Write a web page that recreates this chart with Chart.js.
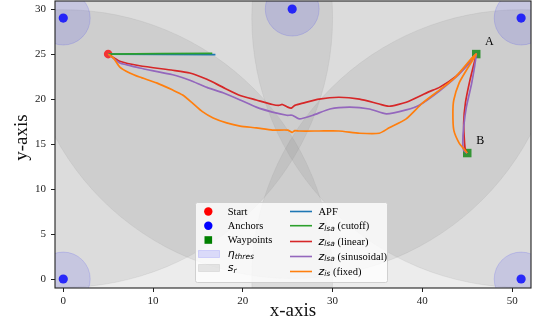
<!DOCTYPE html>
<html>
<head>
<meta charset="utf-8">
<script src="https://cdn.jsdelivr.net/npm/chart.js@4.4.0/dist/chart.umd.min.js"></script>
<style>
  html, body { margin: 0; padding: 0; background: #fff; }
</style>
</head>
<body>
<canvas id="chart" width="537" height="328"></canvas>
<script>
// axes
const xMin = -0.92, xMax = 52.1;
const yMin = -1, yMax = 30.9;
const xTicks = [0, 10, 20, 30, 40, 50];
const yTicks = [0, 5, 10, 15, 20, 25, 30];
const yTitle = 'y-axis';

// anchors, start, waypoints
const anchorX = [0, 25.5, 51, 0, 51];
const anchorY = [29, 30, 29, 0, 0];
const sensingRange = 30;   // s_r
const etaThres = 3;        // eta_thres
const startX = [5], startY = [25];
const waypointX = [46, 45], waypointY = [25, 14];
const waypointNames = ['A', 'B'];

// trajectories
const apfX = [5, 16.95], apfY = [25, 24.94];
const cutoffX = [5, 16.6], cutoffY = [25, 25.08];
const linearX = [5, 6.3, 8.5, 12.2, 14.1, 16.0, 17.8, 19.7, 21.5, 23.3, 24.0, 24.4, 25.0, 25.4, 25.8, 26.7, 28.5, 30.7, 33.0, 35.2, 36.3, 38.2, 40.7, 41.9, 43.7, 45.2, 45.8, 46,
                 45.3, 44.8, 44.6, 44.7, 44.8, 45];
const linearY = [25, 24.2, 23.7, 23.2, 22.9, 22.2, 21.3, 20.4, 19.9, 19.4, 19.3, 19.4, 19.1, 19.0, 19.3, 19.55, 20.0, 20.2, 20.0, 19.45, 19.2, 19.65, 20.8, 21.3, 22.5, 24.0, 24.8, 25,
                 22.1, 19.6, 17.3, 15.1, 14.3, 14];
const sinusX = [5, 6.3, 7.1, 8.5, 12.2, 14.1, 16.0, 17.8, 19.7, 21.5, 23.3, 24.9, 25.5, 26.3, 27.8, 29.7, 31.9, 34.1, 36.0, 38.2, 39.7, 41.9, 43.7, 45.2, 45.8, 46,
                45.5, 44.9, 44.6, 44.5, 44.6, 45];
const sinusY = [25, 24.0, 23.8, 23.45, 22.7, 22.1, 21.3, 20.7, 19.9, 19.1, 18.55, 18.2, 18.2, 17.8, 18.2, 18.9, 19.1, 18.9, 18.35, 18.8, 19.35, 20.9, 22.4, 24.0, 24.8, 25,
                21.8, 19.1, 16.9, 15.1, 14.3, 14];
const fixedX = [5, 5.6, 6.3, 7.4, 8.5, 10.4, 12.2, 13.3, 14.4, 15.5, 16.7, 18.2, 19.7, 21.5, 23.3, 25.0, 25.5, 25.8, 26.3, 28.5, 30.7, 33.0, 35.2, 36.3, 38.2, 40.0, 41.9, 43.7, 45.5, 46,
                44.9, 44.1, 43.5, 43.4, 43.5, 44.1, 44.7, 45];
const fixedY = [25, 24.55, 23.55, 22.9, 22.45, 21.8, 21.0, 20.45, 19.55, 18.6, 17.9, 17.35, 17.0, 16.8, 16.55, 16.55, 16.3, 16.5, 16.45, 16.45, 16.45, 16.2, 16.2, 16.8, 17.8, 19.55, 21.0, 22.45, 24.55, 25,
                23.2, 21.8, 19.9, 18.45, 16.55, 15.1, 14.35, 14];

const legendLeft = ['Start', 'Anchors', 'Waypoints', 'η|thres', 's|r'];
const legendRight = ['APF', 'z|lsa| (cutoff)', 'z|lsa| (linear)', 'z|lsa| (sinusoidal)', 'z|is| (fixed)'];

const pts = (xs, ys) => xs.map((v, i) => ({ x: v, y: ys[i] }));
const serif = '"Liberation Serif", "Times New Roman", serif';
const sans = '"DejaVu Sans", sans-serif';

function lineSet(label, xs, ys, color, order) {
  return { label, data: pts(xs, ys), showLine: true, borderColor: color, borderWidth: 1.7,
           pointRadius: 0, fill: false, order, tension: 0.2 };
}

// text like "z|lsa| (cutoff)" -> italic base, subscript, plain rest
function drawMath(ctx, str, x, y) {
  const parts = str.split('|');
  if (parts.length === 1) {
    ctx.font = '10.5px ' + serif;
    ctx.fillText(str, x, y);
    return;
  }
  ctx.font = 'italic 11px ' + sans;
  ctx.fillText(parts[0], x, y);
  let w = ctx.measureText(parts[0]).width;
  ctx.font = 'italic 7.5px ' + sans;
  ctx.fillText(parts[1], x + w, y + 2.5);
  w += ctx.measureText(parts[1]).width;
  if (parts[2]) {
    ctx.font = '10.5px ' + serif;
    ctx.fillText(parts[2], x + w, y);
  }
}

const backgroundPlugin = {
  id: 'background',
  beforeDatasetsDraw(chart) {
    const { ctx, chartArea: a, scales: { x, y } } = chart;
    const ppu = Math.abs(x.getPixelForValue(1) - x.getPixelForValue(0));
    ctx.save();
    ctx.beginPath();
    ctx.rect(a.left, a.top, a.right - a.left, a.bottom - a.top);
    ctx.clip();
    anchorX.forEach((ax, i) => {
      ctx.beginPath();
      ctx.arc(x.getPixelForValue(ax), y.getPixelForValue(anchorY[i]), sensingRange * ppu, 0, Math.PI * 2);
      ctx.fillStyle = 'rgba(128,128,128,0.15)';
      ctx.fill();
      ctx.strokeStyle = 'rgba(128,128,128,0.12)';
      ctx.lineWidth = 1;
      ctx.stroke();
    });
    anchorX.forEach((ax, i) => {
      ctx.beginPath();
      ctx.arc(x.getPixelForValue(ax), y.getPixelForValue(anchorY[i]), etaThres * ppu, 0, Math.PI * 2);
      ctx.fillStyle = 'rgba(0,0,255,0.1)';
      ctx.fill();
      ctx.strokeStyle = 'rgba(0,0,255,0.12)';
      ctx.stroke();
    });
    ctx.restore();
  },
  afterDatasetsDraw(chart) {
    const { ctx, chartArea: a, scales: { x, y } } = chart;
    ctx.save();
    ctx.strokeStyle = '#222';
    ctx.lineWidth = 1.1;
    ctx.strokeRect(a.left, a.top, a.right - a.left, a.bottom - a.top);
    // waypoint names
    ctx.fillStyle = '#000';
    ctx.font = '12px ' + serif;
    ctx.textAlign = 'center';
    ctx.textBaseline = 'middle';
    waypointNames.forEach((n, i) => {
      ctx.fillText(n, x.getPixelForValue(waypointX[i]) + 13, y.getPixelForValue(waypointY[i]) - 12);
    });
    ctx.restore();
  },
  afterDraw(chart) {
    const ctx = chart.ctx;
    ctx.save();
    // y title, a bit above the axis centre like the original
    ctx.save();
    ctx.translate(22.4, 137.5);
    ctx.rotate(-Math.PI / 2);
    ctx.font = '19px ' + serif;
    ctx.fillStyle = '#111';
    ctx.textAlign = 'center';
    ctx.textBaseline = 'middle';
    ctx.fillText(yTitle, 0, 0);
    ctx.restore();

    // legend box
    ctx.beginPath();
    ctx.roundRect(195.5, 202.5, 192, 80, 2);
    ctx.fillStyle = 'rgba(255,255,255,0.8)';
    ctx.fill();
    ctx.strokeStyle = 'rgba(204,204,204,0.9)';
    ctx.lineWidth = 1;
    ctx.stroke();

    const rowsL = [211.5, 225.7, 240, 254, 268];
    const rowsR = [211.5, 225.7, 241.5, 256.5, 271.5];
    const lineColors = ['#1f77b4', '#2ca02c', '#d62728', '#9467bd', '#ff7f0e'];
    ctx.textBaseline = 'middle';
    ctx.textAlign = 'left';
    // handles, left column
    ctx.fillStyle = 'red';
    ctx.beginPath(); ctx.arc(208.3, rowsL[0], 4.2, 0, Math.PI * 2); ctx.fill();
    ctx.fillStyle = 'blue';
    ctx.beginPath(); ctx.arc(208.3, rowsL[1], 4.2, 0, Math.PI * 2); ctx.fill();
    ctx.fillStyle = 'green';
    ctx.fillRect(204.5, rowsL[2] - 3.8, 7.6, 7.6);
    ctx.fillStyle = 'rgba(0,0,255,0.12)';
    ctx.fillRect(198.5, rowsL[3] - 3.5, 21, 7);
    ctx.strokeStyle = 'rgba(0,0,255,0.12)';
    ctx.strokeRect(198.5, rowsL[3] - 3.5, 21, 7);
    ctx.fillStyle = 'rgba(128,128,128,0.18)';
    ctx.fillRect(198.5, rowsL[4] - 3.5, 21, 7);
    ctx.strokeStyle = 'rgba(128,128,128,0.15)';
    ctx.strokeRect(198.5, rowsL[4] - 3.5, 21, 7);
    ctx.fillStyle = '#000';
    legendLeft.forEach((t, i) => drawMath(ctx, t, 227.7, rowsL[i] + 0.5));
    // right column
    legendRight.forEach((t, i) => {
      ctx.strokeStyle = lineColors[i];
      ctx.lineWidth = 1.6;
      ctx.beginPath(); ctx.moveTo(290, rowsR[i]); ctx.lineTo(312, rowsR[i]); ctx.stroke();
      ctx.fillStyle = '#000';
      drawMath(ctx, t, 318.5, rowsR[i] + 0.5);
    });
    ctx.restore();
  }
};

new Chart(document.getElementById('chart'), {
  type: 'scatter',
  data: {
    datasets: [
      lineSet('z_is (fixed)', fixedX, fixedY, '#ff7f0e', 1),
      lineSet('z_lsa (sinusoidal)', sinusX, sinusY, '#9467bd', 2),
      lineSet('z_lsa (linear)', linearX, linearY, '#d62728', 3),
      lineSet('z_lsa (cutoff)', cutoffX, cutoffY, '#2ca02c', 4),
      lineSet('APF', apfX, apfY, '#1f77b4', 5),
      { label: 'Start', data: pts(startX, startY), pointRadius: 4.3, pointBackgroundColor: 'rgba(255,0,0,0.75)',
        pointBorderWidth: 0, order: 6 },
      { label: 'Waypoints', data: pts(waypointX, waypointY), pointStyle: 'rect', pointRadius: 6,
        pointBackgroundColor: 'rgba(0,128,0,0.75)', pointBorderWidth: 0, order: 7 },
      { label: 'Anchors', data: pts(anchorX, anchorY), pointRadius: 4.6, pointBackgroundColor: 'rgba(0,0,255,0.8)',
        pointBorderWidth: 0, order: 8 }
    ]
  },
  options: {
    responsive: false,
    devicePixelRatio: 1,
    animation: false,
    layout: { autoPadding: false, padding: { top: 1, right: 6, left: 0, bottom: 0 } },
    plugins: { legend: { display: false }, tooltip: { enabled: false } },
    scales: {
      x: {
        type: 'linear', min: xMin, max: xMax,
        afterFit(s) { s.height = 40; s.paddingLeft = 0; s.paddingRight = 0; },
        afterBuildTicks(s) { s.ticks = xTicks.map(v => ({ value: v })); },
        grid: { drawOnChartArea: false, drawTicks: true, tickLength: 4, tickColor: '#222', color: '#222' },
        border: { display: false },
        ticks: { font: { family: serif, size: 11 }, color: '#222', padding: 3, maxRotation: 0 },
        title: { display: true, text: 'x-axis', font: { family: serif, size: 19 }, color: '#111',
                 padding: { top: 0, bottom: 6 } }
      },
      y: {
        type: 'linear', min: yMin, max: yMax,
        afterFit(s) { s.width = 55; s.paddingTop = 0; s.paddingBottom = 0; },
        afterBuildTicks(s) { s.ticks = yTicks.map(v => ({ value: v })); },
        grid: { drawOnChartArea: false, drawTicks: true, tickLength: 4, tickColor: '#222', color: '#222' },
        border: { display: false },
        ticks: { font: { family: serif, size: 11 }, color: '#222', padding: 5 },
        title: { display: false }
      }
    }
  },
  plugins: [backgroundPlugin]
});
</script>
</body>
</html>
